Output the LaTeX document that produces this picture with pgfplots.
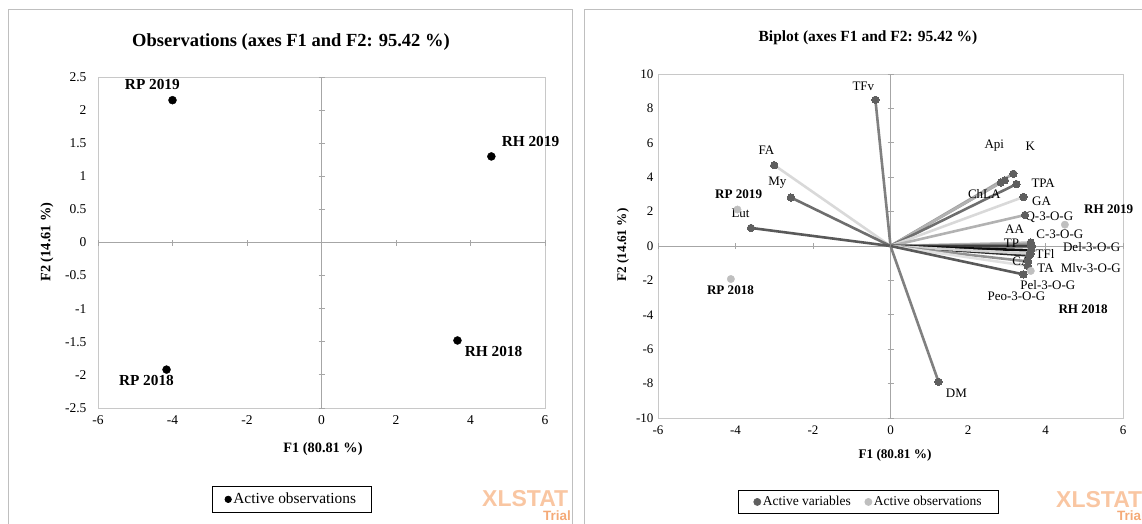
\documentclass[border=0pt]{standalone}
\usepackage{pgfplots}
\pgfplotsset{compat=1.18}
\usepackage{fontspec}
\setmainfont{Liberation Serif}
\newfontfamily\wmfont{Liberation Sans}
\definecolor{framegray}{HTML}{BFBFBF}
\definecolor{boxgray}{HTML}{C8C8C8}
\definecolor{zerogray}{HTML}{A6A6A6}
\definecolor{vardot}{HTML}{5F5F5F}
\definecolor{obsgray}{HTML}{BFBFBF}
\definecolor{wmorange}{HTML}{F9C6A2}
\definecolor{wmorange2}{HTML}{F4AA78}
\newcommand{\fs}[1]{\fontsize{#1}{#1}\selectfont}
\newcommand{\var}[3]{\addplot[color=#1, line width=2.6pt, mark=*, mark indices={2}, mark size=3.7pt, mark options={fill=vardot, draw=vardot, line width=0pt}, forget plot] coordinates {(0,0) (#2,#3)};}
\begin{document}
\begin{tikzpicture}
\clip (0pt,0pt) rectangle (1142pt,524pt);
\draw[framegray, line width=1pt] (8pt,-20pt) rectangle (572pt,514pt);
\draw[framegray, line width=1pt] (584pt,-20pt) rectangle (1170pt,514pt);
% titles
\node[font=\bfseries\fs{18.5}] at (291pt,482pt) {Observations (axes F1 and F2: 95.42 \%)};
\node[font=\bfseries\fs{15.5}] at (868pt,486pt) {Biplot (axes F1 and F2: 95.42 \%)};
\node[font=\bfseries\fs{14.3}] at (323pt,75pt) {F1 (80.81 \%)};
\node[font=\bfseries\fs{14.3}, rotate=90] at (47pt,282pt) {F2 (14.61 \%)};
\node[font=\bfseries\fs{13.2}] at (895pt,69pt) {F1 (80.81 \%)};
\node[font=\bfseries\fs{13.2}, rotate=90] at (623pt,279pt) {F2 (14.61 \%)};
% watermarks
\node[anchor=base west, inner sep=0, font=\wmfont\bfseries\fs{23}, text=wmorange] at (482pt,17pt) {XLSTAT};
\node[anchor=north east, inner sep=0, font=\wmfont\bfseries\fs{13.5}, text=wmorange2] at (571pt,13pt) {Trial};
\node[anchor=base west, inner sep=0, font=\wmfont\bfseries\fs{23}, text=wmorange] at (1056pt,16pt) {XLSTAT};
\node[anchor=north west, inner sep=0, font=\wmfont\bfseries\fs{13.5}, text=wmorange2] at (1117pt,13pt) {Trial};

% ---------------- left axis ----------------
\begin{axis}[at={(98pt,116pt)}, anchor=south west, scale only axis,
  width=447pt, height=331pt,
  xmin=-6, xmax=6, ymin=-2.5, ymax=2.5,
  xtick={-6,-4,-2,0,2,4,6},
  ytick={-2.5,-2,-1.5,-1,-0.5,0,0.5,1,1.5,2,2.5},
  axis line style={boxgray, line width=0.8pt},
  major tick length=0pt,
  /pgf/number format/assume math mode=true,
  tick label style={font=\fs{13.5}},
  yticklabel style={xshift=-8pt},
  xticklabel style={yshift=-4pt},
  clip=false,
  legend style={at={(0.433,-0.276)}, anchor=center, draw=black, line width=0.8pt,
    font=\fs{15.4}, inner xsep=13pt, inner ysep=5pt},
  legend image code/.code={\draw[#1] plot coordinates {(0pt,0pt)};},
]
\draw[zerogray, line width=0.8pt] (axis cs:-6,0) -- (axis cs:6,0);
\draw[zerogray, line width=0.8pt] (axis cs:0,-2.5) -- (axis cs:0,2.5);
\pgfplotsinvokeforeach{-6,-4,-2,2,4,6}{\draw[zerogray, line width=0.8pt] (axis cs:#1,0) ++(0pt,-3pt) -- ++(0pt,6pt);}
\pgfplotsinvokeforeach{-2.5,-2,-1.5,-1,-0.5,0.5,1,1.5,2,2.5}{\draw[zerogray, line width=0.8pt] (axis cs:0,#1) ++(-3pt,0pt) -- ++(6pt,0pt);}
\addplot[only marks, mark=*, mark size=4pt, black, forget plot] coordinates {(-4.00,2.15) (-4.16,-1.92) (4.56,1.30) (3.65,-1.48)};
\addlegendimage{only marks, mark=*, mark size=3.2pt, black}
\addlegendentry{Active observations}
\node[font=\bfseries\fs{15.3}] at (axis cs:-4.54,2.39) {RP 2019};
\node[font=\bfseries\fs{15.3}] at (axis cs:-4.70,-2.09) {RP 2018};
\node[font=\bfseries\fs{15.3}] at (axis cs:5.61,1.53) {RH 2019};
\node[font=\bfseries\fs{15.3}] at (axis cs:4.62,-1.64) {RH 2018};
\end{axis}

% ---------------- right axis ----------------
\begin{axis}[at={(658pt,106pt)}, anchor=south west, scale only axis,
  width=465pt, height=344pt,
  xmin=-6, xmax=6, ymin=-10, ymax=10,
  xtick={-6,-4,-2,0,2,4,6},
  ytick={-10,-8,-6,-4,-2,0,2,4,6,8,10},
  axis line style={boxgray, line width=0.8pt},
  major tick length=0pt,
  /pgf/number format/assume math mode=true,
  tick label style={font=\fs{13}},
  yticklabel style={xshift=-1pt},
  xticklabel style={yshift=-4pt},
  clip=false,
  legend columns=2,
  legend style={at={(0.453,-0.244)}, anchor=center, draw=black, line width=0.8pt,
    font=\fs{13.5}, inner xsep=15pt, inner ysep=4pt,
    /tikz/every even column/.append style={column sep=12pt}},
  legend image code/.code={\draw[#1] plot coordinates {(0pt,0pt)};},
]
\draw[zerogray, line width=0.8pt] (axis cs:-6,0) -- (axis cs:6,0);
\draw[zerogray, line width=0.8pt] (axis cs:0,-10) -- (axis cs:0,10);
\pgfplotsinvokeforeach{-6,-4,-2,2,4,6}{\draw[zerogray, line width=0.8pt] (axis cs:#1,0) ++(0pt,-3pt) -- ++(0pt,6pt);}
\pgfplotsinvokeforeach{-10,-8,-6,-4,-2,2,4,6,8,10}{\draw[zerogray, line width=0.8pt] (axis cs:0,#1) ++(-3pt,0pt) -- ++(6pt,0pt);}
% variables
\var{black!50}{-0.39}{8.50}
\var{black!15}{-3.00}{4.70}
\var{black!57}{-2.57}{2.82}
\var{black!65}{-3.60}{1.05}
\var{black!50}{1.24}{-7.90}
\var{black!35}{3.17}{4.20}
\var{black!45}{2.95}{3.82}
\var{black!30}{2.85}{3.70}
\var{black!57}{3.25}{3.60}
\var{black!15}{3.43}{2.85}
\var{black!30}{3.47}{1.80}
\var{black!25}{3.62}{0.20}
\var{black!37}{3.62}{0.12}
\var{black!50}{3.62}{0.05}
\var{black!75}{3.65}{-0.02}
\var{black!95}{3.62}{-0.25}
\var{black!85}{3.58}{-0.55}
\var{black!18}{3.62}{-0.45}
\var{black!43}{3.55}{-0.90}
\var{black!12}{3.54}{-1.16}
\var{black!65}{3.43}{-1.65}
% observations
\addplot[only marks, mark=*, mark size=3.7pt, obsgray, forget plot] coordinates {(-3.95,2.12) (-4.12,-1.92) (4.50,1.24) (3.62,-1.45)};
\addlegendimage{only marks, mark=*, mark size=3.5pt, vardot}
\addlegendentry{Active variables}
\addlegendimage{only marks, mark=*, mark size=3.5pt, obsgray}
\addlegendentry{Active observations}
% labels
\begin{scope}[every node/.style={font=\fs{13}, inner sep=0}]
\node at (axis cs:-0.70,9.30) {TFv};
\node at (axis cs:-3.20,5.58) {FA};
\node at (axis cs:-2.92,3.66) {My};
\node at (axis cs:-3.87,1.92) {Lut};
\node at (axis cs:1.70,-8.55) {DM};
\node at (axis cs:2.68,5.81) {Api};
\node at (axis cs:3.61,5.81) {K};
\node at (axis cs:3.94,3.66) {TPA};
\node at (axis cs:2.42,3.02) {ChLA};
\node at (axis cs:3.90,2.62) {GA};
\node at (axis cs:4.10,1.69) {Q-3-O-G};
\node at (axis cs:3.20,0.99) {AA};
\node at (axis cs:4.37,0.70) {C-3-O-G};
\node at (axis cs:3.12,0.17) {TP};
\node at (axis cs:5.19,-0.06) {Del-3-O-G};
\node at (axis cs:3.99,-0.47) {TFl};
\node at (axis cs:3.38,-0.87) {CA};
\node at (axis cs:4.00,-1.28) {TA};
\node at (axis cs:5.17,-1.28) {Mlv-3-O-G};
\node at (axis cs:4.06,-2.27) {Pel-3-O-G};
\node at (axis cs:3.25,-2.90) {Peo-3-O-G};
\end{scope}
\begin{scope}[every node/.style={font=\bfseries\fs{13.1}, inner sep=0}]
\node at (axis cs:-3.92,3.02) {RP 2019};
\node at (axis cs:-4.13,-2.56) {RP 2018};
\node at (axis cs:5.63,2.15) {RH 2019};
\node at (axis cs:4.97,-3.66) {RH 2018};
\end{scope}
\end{axis}
\end{tikzpicture}
\end{document}
